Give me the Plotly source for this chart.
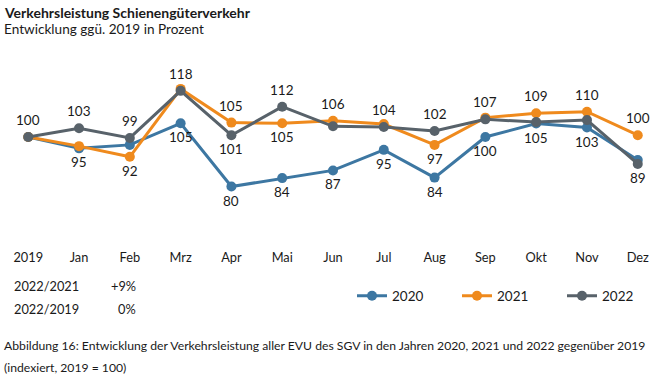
import plotly.graph_objects as go

months = ["2019", "Jan", "Feb", "Mrz", "Apr", "Mai", "Jun", "Jul", "Aug", "Sep", "Okt", "Nov", "Dez"]
v2020 = [100, 95.4, 96.8, 105.5, 80, 83.4, 86.5, 94.8, 83.6, 100, 105.4, 103.8, 90.7]
v2021 = [100, 96.3, 92, 119.4, 105.8, 105.5, 106.5, 105.2, 96.8, 107.8, 109.6, 110.2, 100.7]
v2022 = [100, 103.5, 99.6, 118.6, 100.7, 112.2, 104.3, 104, 102.4, 107.1, 106, 106.8, 89.1]

# data labels: (text, side) per point; "" = no label
lab2020 = ["", "95", "", "105", "80", "84", "87", "95", "84", "100", "105", "103", ""]
side2020 = ["", "b", "", "b", "b", "b", "b", "b", "b", "b", "b", "b", ""]
lab2021 = ["", "", "92", "", "105", "105", "106", "", "97", "", "109", "110", "100"]
side2021 = ["", "", "b", "", "t", "b", "t", "", "b", "", "t", "t", "t"]
lab2022 = ["100", "103", "99", "118", "101", "112", "", "104", "102", "107", "", "", "89"]
side2022 = ["t", "t", "t", "t", "b", "t", "", "t", "t", "t", "", "", "b"]

title = "Verkehrsleistung Schienengüterverkehr"
subtitle = "Entwicklung ggü. 2019 in Prozent"
table_rows = ["2022/2021", "2022/2019"]
table_vals = ["+9%", "0%"]
caption1 = "Abbildung 16: Entwicklung der Verkehrsleistung aller EVU des SGV in den Jahren 2020, 2021 und 2022 gegenüber 2019"
caption2 = "(indexiert, 2019 = 100)"

C2020 = "#3d77a2"
C2021 = "#ef8a1d"
C2022 = "#58626a"
FONT = "Lato"
TXT = "#1a1a1a"

W, H = 660, 382
ML, MR, MT, MB = 13, 7, 75, 134
PW, PH = W - ML - MR, H - MT - MB


def px(x):
    return (x - ML) / PW


def py(y):
    return (H - MB - y) / PH


fig = go.Figure()
for name, vals, col in [("2020", v2020, C2020), ("2021", v2021, C2021), ("2022", v2022, C2022)]:
    fig.add_trace(go.Scatter(
        x=months, y=vals, name=name, mode="lines+markers",
        line=dict(color=col, width=3), marker=dict(color=col, size=10),
        hoverinfo="skip",
    ))

anns = []
for vals, labs, sides in [(v2020, lab2020, side2020), (v2021, lab2021, side2021), (v2022, lab2022, side2022)]:
    for i, (v, t, s) in enumerate(zip(vals, labs, sides)):
        if not t:
            continue
        anns.append(dict(x=i, y=v, xref="x", yref="y", text=t, showarrow=False,
                         yshift=17 if s == "t" else -14,
                         font=dict(family=FONT, size=13.5, color=TXT)))

anns.append(dict(x=px(2), y=py(12), xref="paper", yref="paper", text="<b>" + title + "</b>",
                 showarrow=False, xanchor="left", yanchor="middle",
                 font=dict(family=FONT, size=14, color=TXT)))
anns.append(dict(x=px(2), y=py(29), xref="paper", yref="paper", text=subtitle,
                 showarrow=False, xanchor="left", yanchor="middle",
                 font=dict(family=FONT, size=13.6, color=TXT)))
for i, (r, v) in enumerate(zip(table_rows, table_vals)):
    yy = 286 + i * 23
    anns.append(dict(x=px(12), y=py(yy), xref="paper", yref="paper", text=r,
                     showarrow=False, xanchor="left", yanchor="middle",
                     font=dict(family=FONT, size=12.8, color=TXT)))
    anns.append(dict(x=px(138), y=py(yy), xref="paper", yref="paper", text=v,
                     showarrow=False, xanchor="right", yanchor="middle",
                     font=dict(family=FONT, size=12.8, color=TXT)))
anns.append(dict(x=px(2), y=py(345), xref="paper", yref="paper", text=caption1,
                 showarrow=False, xanchor="left", yanchor="middle",
                 font=dict(family=FONT, size=12.2, color=TXT)))
anns.append(dict(x=px(2), y=py(367), xref="paper", yref="paper", text=caption2,
                 showarrow=False, xanchor="left", yanchor="middle",
                 font=dict(family=FONT, size=12.2, color=TXT)))

fig.update_layout(
    width=W, height=H, margin=dict(l=ML, r=MR, t=MT, b=MB, autoexpand=False),
    paper_bgcolor="white", plot_bgcolor="white",
    font=dict(family=FONT, size=12.8, color=TXT),
    xaxis=dict(type="category", range=[-0.3, 12.3], showgrid=False, zeroline=False,
               showline=False, ticks="", tickfont=dict(family=FONT, size=12.8, color=TXT),
               fixedrange=True, automargin=False),
    yaxis=dict(range=[55.2, 125], showgrid=False, zeroline=False, showline=False,
               showticklabels=False, fixedrange=True, automargin=False),
    showlegend=True,
    legend=dict(orientation="h", xref="container", yref="container",
                x=352 / W, y=1 - 296 / H, xanchor="left", yanchor="middle",
                entrywidth=60, entrywidthmode="pixels", itemwidth=30,
                font=dict(family=FONT, size=13.5, color=TXT), bgcolor="rgba(0,0,0,0)"),
    annotations=anns,
)

fig.write_html("out.html", config={"displayModeBar": False},
               post_script="document.body.style.margin='0';document.body.style.padding='0';")
